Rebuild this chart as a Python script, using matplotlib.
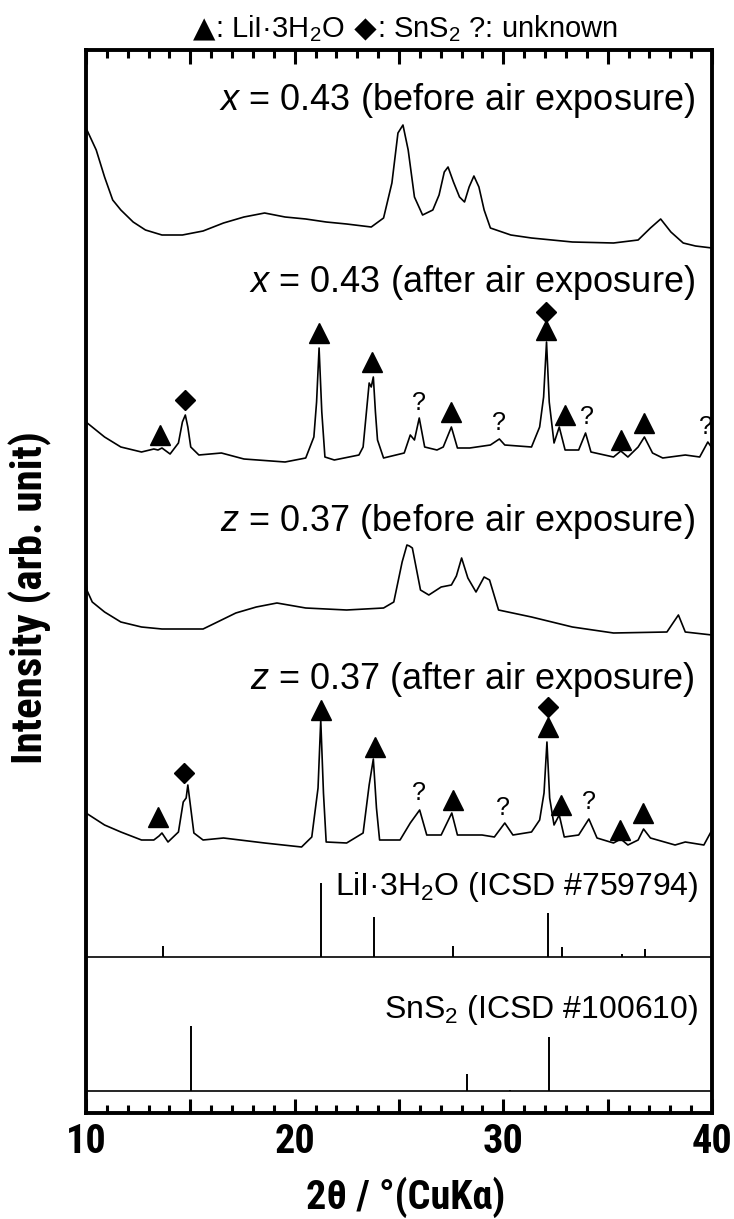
import matplotlib
matplotlib.use("Agg")
import matplotlib.pyplot as plt
from matplotlib import font_manager
from matplotlib.font_manager import FontProperties
from matplotlib.ticker import MultipleLocator, FuncFormatter

# XRD traces: 2theta (deg) and intensity (arb.)
tth_x_before = [10.0, 10.49, 10.89, 11.28, 11.67, 12.26, 12.85, 13.64, 14.62, 15.61,
                16.59, 17.57, 18.56, 19.54, 20.53, 21.51, 22.49, 23.67, 24.26, 24.66,
                24.95, 25.19, 25.44, 25.74, 26.13, 26.62, 26.92, 27.17, 27.35, 27.61,
                27.90, 28.14, 28.36, 28.59, 28.83, 29.08, 29.38, 30.36, 31.35, 33.31,
                35.28, 36.46, 37.05, 37.54, 38.03, 38.62, 39.21, 40.0]
int_x_before = [122, 100, 73, 50, 40, 28, 20, 15, 15, 19,
                27, 33, 37, 33, 31, 28, 26, 23, 32, 67,
                117, 125, 100, 53, 35, 40, 55, 78, 83, 68,
                53, 48, 63, 74, 63, 40, 22, 15, 12, 8,
                7, 10, 22, 31, 18, 7, 4, 2]

tth_x_after = [10.0, 10.89, 11.67, 12.66, 13.25, 13.45, 13.64, 14.03, 14.43, 14.62,
               14.76, 14.88, 15.02, 15.41, 16.49, 17.57, 19.54, 20.53, 20.92, 21.05,
               21.17, 21.30, 21.45, 21.90, 23.08, 23.28, 23.57, 23.67, 23.77, 23.87,
               23.97, 24.26, 25.25, 25.54, 25.74, 25.97, 26.23, 26.82, 27.12, 27.51,
               27.80, 28.39, 29.38, 29.81, 30.07, 31.35, 31.74, 31.93, 32.07, 32.20,
               32.43, 32.68, 32.96, 33.61, 33.94, 34.20, 35.28, 35.63, 35.97, 36.46,
               36.76, 37.15, 37.64, 38.72, 39.41, 39.80, 40.0]
int_x_after = [40, 25, 15, 10, 13, 12, 14, 8, 19, 40,
               47, 35, 15, 7, 9, 3, 0, 4, 25, 60,
               114, 50, 5, 2, 7, 15, 79, 75, 85, 50,
               22, 4, 9, 27, 22, 44, 15, 12, 15, 35,
               14, 14, 17, 23, 17, 15, 35, 65, 120, 60,
               19, 35, 12, 12, 29, 10, 5, 11, 5, 15,
               25, 9, 4, 7, 5, 20, 14]

tth_z_before = [10.0, 10.06, 10.30, 10.89, 11.67, 12.66, 13.64, 15.61, 16.20, 17.18,
                18.16, 19.15, 20.53, 22.49, 24.26, 24.75, 25.15, 25.38, 25.50, 25.64,
                26.03, 26.43, 27.02, 27.51, 27.75, 28.00, 28.30, 28.69, 29.08, 29.34,
                29.77, 31.35, 33.31, 35.28, 37.84, 38.13, 38.39, 38.72, 40.0]
int_z_before = [53, 45, 34, 24, 14, 9, 7, 7, 13, 23,
                29, 33, 28, 26, 28, 34, 74, 91, 90, 88,
                46, 41, 49, 51, 60, 78, 58, 44, 59, 56,
                26, 19, 9, 3, 4, 13, 21, 4, 1]

tth_z_after = [10.0, 10.89, 11.67, 12.66, 13.25, 13.50, 13.64, 13.93, 14.43, 14.66,
               14.80, 14.88, 15.17, 15.61, 16.59, 18.56, 20.33, 20.82, 21.12, 21.25,
               21.38, 21.51, 22.49, 23.28, 23.57, 23.77, 23.92, 24.07, 25.05, 25.54,
               25.99, 26.33, 27.02, 27.53, 27.80, 28.98, 29.57, 30.07, 30.46, 31.35,
               31.74, 31.95, 32.09, 32.22, 32.43, 32.68, 32.92, 33.61, 34.10, 34.49,
               35.28, 35.63, 35.97, 36.46, 36.72, 37.05, 38.23, 38.72, 39.61, 40.0]
int_z_after = [35, 23, 16, 8, 8, 12, 15, 6, 16, 46,
               50, 63, 15, 8, 10, 5, 1, 11, 60, 128,
               55, 6, 5, 15, 63, 89, 40, 8, 8, 25,
               38, 13, 13, 35, 13, 13, 11, 25, 13, 16,
               28, 55, 106, 50, 23, 33, 11, 13, 29, 10,
               5, 9, 3, 8, 19, 10, 3, 6, 3, 18]

# ICSD reference peaks
lii_tth = [13.69, 21.28, 23.81, 27.57, 32.16, 32.79, 35.70, 36.77]
lii_int = [11, 74, 40, 11, 44, 10, 3, 8]
sns2_tth = [15.04, 28.25, 30.33, 32.19]
sns2_int = [65, 17, 1, 54]

# peak assignment marks (2theta, height on the plot)
tri_x = [13.54, 21.15, 23.71, 27.51, 32.03, 32.96, 35.63, 36.76,
         13.44, 21.25, 23.87, 27.61, 32.13, 32.76, 35.57, 36.70]
tri_y = [678, 780, 751, 701, 783, 698, 673, 690,
         296, 403, 366, 313, 386, 308, 283, 300]
dia_x = [14.76, 32.03, 14.72, 32.13]
dia_y = [713, 801, 340, 406]
q_x = [25.97, 29.81, 34.00, 39.71, 25.94, 29.97, 34.10]
q_y = [710, 690, 696, 686, 320, 305, 311]


def condensed_bold():
    # look for an installed narrow/condensed bold face for the axis text
    prefer = ["Liberation Sans Narrow", "Arial Narrow", "Roboto Condensed",
              "Open Sans", "Noto Sans", "DejaVu Sans", "Lato", "Inter"]
    best = None
    for f in font_manager.fontManager.ttflist:
        w = f.weight if isinstance(f.weight, int) else font_manager.weight_dict.get(f.weight, 400)
        if w < 700 or f.stretch not in ("condensed", "semi-condensed") or f.style != "normal":
            continue
        fn = f.fname.lower()
        odd = 1 if ("semi" in fn or "extra" in fn or "ultra" in fn) else 0
        rank = prefer.index(f.name) if f.name in prefer else len(prefer)
        key = (odd, rank, abs(w - 700))
        if best is None or key < best[0]:
            best = (key, f.fname)
    return best[1] if best else None


cond = condensed_bold()


def axis_font(size):
    if cond:
        return FontProperties(fname=cond, size=size)
    return FontProperties(family="Liberation Sans", weight="bold", size=size)


plt.rcParams["font.family"] = ["Liberation Sans", "DejaVu Sans"]
plt.rcParams["mathtext.fontset"] = "custom"
plt.rcParams["mathtext.rm"] = "Liberation Sans"
plt.rcParams["mathtext.it"] = "Liberation Sans:italic"

fig = plt.figure(figsize=(7.34, 12.19), dpi=100)
ax = fig.add_axes([86 / 734, 1 - 1113 / 1219, 626 / 734, 1063 / 1219])

traces = [
    (tth_x_before, int_x_before, 863, r"$x$ = 0.43 (before air exposure)", 1013),
    (tth_x_after, int_x_after, 651, r"$x$ = 0.43 (after air exposure)", 830),
    (tth_z_before, int_z_before, 477, r"$z$ = 0.37 (before air exposure)", 591),
    (tth_z_after, int_z_after, 265, r"$z$ = 0.37 (after air exposure)", 433),
]
for tth, inten, off, label, ly in traces:
    ax.plot(tth, [v + off for v in inten], color="k", lw=1.2)
    ax.text(39.2, ly, label, ha="right", va="center", fontsize=26)

refs = [
    (lii_tth, lii_int, 156, r"LiI·3H$_2$O (ICSD #759794)", 226),
    (sns2_tth, sns2_int, 22, r"SnS$_2$ (ICSD #100610)", 103),
]
for tth, inten, off, label, ly in refs:
    ax.hlines(off, 10, 40, color="k", lw=1.2)
    ax.vlines(tth, off, [v + off for v in inten], color="k", lw=1.4)
    ax.text(39.35, ly, label, ha="right", va="center", fontsize=23)

ax.plot(tri_x, tri_y, ls="none", marker="^", ms=14, color="k")
ax.plot(dia_x, dia_y, ls="none", marker="D", ms=10, color="k")
for qx, qy in zip(q_x, q_y):
    ax.text(qx, qy, "?", ha="center", va="center", fontsize=18)

ax.set_xlim(10, 40)
ax.set_ylim(0, 1063)
ax.set_yticks([])
ax.xaxis.set_major_locator(MultipleLocator(5))
ax.xaxis.set_minor_locator(MultipleLocator(1))
ax.xaxis.set_major_formatter(FuncFormatter(lambda v, p: f"{v:.0f}" if v % 10 == 0 else ""))
ax.tick_params(axis="x", which="both", direction="in", top=True, width=2.2, pad=7)
ax.tick_params(axis="x", which="major", length=10)
ax.tick_params(axis="x", which="minor", length=6)
for lab in ax.get_xticklabels():
    lab.set_fontproperties(axis_font(29))
for sp in ax.spines.values():
    sp.set_linewidth(2.8)

ax.set_xlabel("2θ / °(CuKα)", fontproperties=axis_font(29))
ax.xaxis.set_label_coords(0.511, -0.079)
ax.xaxis.label.set_va("center")
ax.set_ylabel("Intensity (arb. unit)", fontproperties=axis_font(31))
ax.yaxis.set_label_coords(-0.0895, 0.485)
ax.yaxis.label.set_va("center")

# legend line above the frame, built piece by piece so the symbols come from DejaVu
base_y = 1 - 37 / 1219
pieces = [("▲", "DejaVu Sans"), (r": LiI·3H$_2$O", "Liberation Sans"),
          (" ◆", "DejaVu Sans"), (r": SnS$_2$ ?: unknown", "Liberation Sans")]
prev = fig.text(193 / 734, base_y, pieces[0][0], family=pieces[0][1],
                fontsize=21, ha="left", va="baseline")
for txt, fam in pieces[1:]:
    prev = ax.annotate(txt, xy=(1, base_y), xycoords=(prev, "figure fraction"),
                       family=fam, fontsize=21, ha="left", va="baseline",
                       annotation_clip=False)

fig.savefig("out.png", dpi=100)
